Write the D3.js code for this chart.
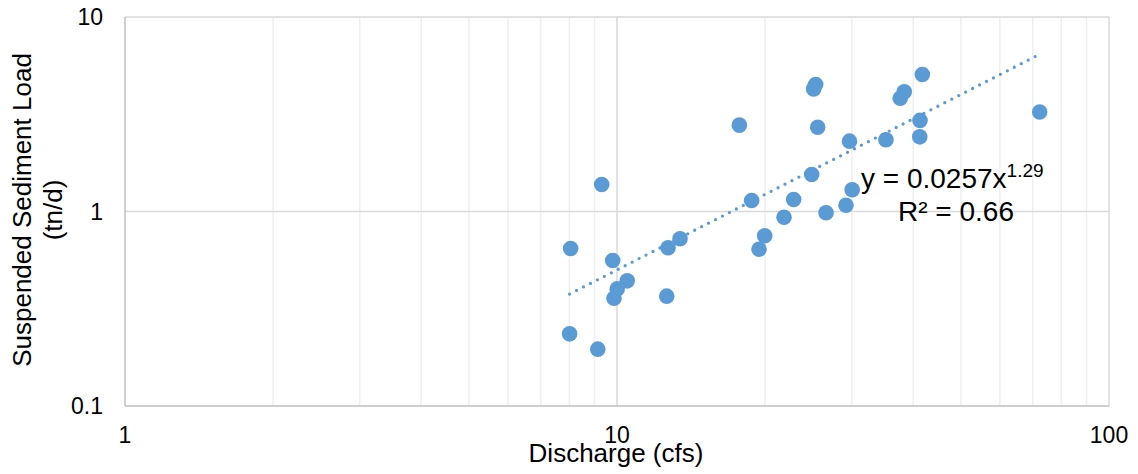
<!DOCTYPE html>
<html>
<head>
<meta charset="utf-8">
<script src="https://cdn.jsdelivr.net/npm/d3@7"></script>
<style>
  html, body { margin: 0; padding: 0; background: #fff; }
  svg { display: block; font-family: "Liberation Sans", Arial, sans-serif; }
</style>
</head>
<body>
<svg id="chart" width="1138" height="474"></svg>
<script>
// Discharge (cfs) and suspended sediment load (tn/d) for each sample
const discharge = [8.05, 8.01, 9.14, 9.31, 9.80, 10.01, 9.86, 10.49, 12.70, 12.62, 13.43,
  17.73, 18.78, 19.44, 19.96, 21.85, 22.86, 24.87, 25.10, 25.34, 25.58, 26.60, 29.20,
  29.69, 30.06, 35.21, 37.64, 38.36, 41.29, 41.24, 41.74, 72.29];
const load = [0.645, 0.235, 0.196, 1.376, 0.560, 0.400, 0.358, 0.440, 0.651, 0.367, 0.724,
  2.78, 1.139, 0.640, 0.750, 0.935, 1.153, 1.55, 4.27, 4.50, 2.71, 0.986, 1.076,
  2.30, 1.293, 2.34, 3.82, 4.13, 2.94, 2.42, 5.06, 3.25];

// Power-law fit y = a * x^b
const fitCoef = 0.0257;
const fitExp = 1.29;
const fitR2 = "0.66";

const xTicks = [1, 10, 100];
const yTicks = [0.1, 1, 10];
const xMinor = [2, 3, 4, 5, 6, 7, 8, 9, 20, 30, 40, 50, 60, 70, 80, 90];

const svg = d3.select("#chart");
const margin = { left: 125, right: 29, top: 17, bottom: 68 };
const W = 1138, H = 474;

const x = d3.scaleLog().domain([1, 100]).range([margin.left, W - margin.right]);
const y = d3.scaleLog().domain([0.1, 10]).range([H - margin.bottom, margin.top]);

const blue = "#5b9bd5";

// minor vertical gridlines
svg.append("g").selectAll("line").data(xMinor).join("line")
  .attr("x1", d => x(d)).attr("x2", d => x(d))
  .attr("y1", y(0.1)).attr("y2", y(10))
  .attr("stroke", "#efefef").attr("stroke-width", 1.5);

// major gridlines
svg.append("g").selectAll("line").data(xTicks.slice(1)).join("line")
  .attr("x1", d => x(d)).attr("x2", d => x(d))
  .attr("y1", y(0.1)).attr("y2", y(10))
  .attr("stroke", "#d9d9d9").attr("stroke-width", 1.5);
svg.append("g").selectAll("line").data(yTicks.slice(1)).join("line")
  .attr("x1", x(1)).attr("x2", x(100))
  .attr("y1", d => y(d)).attr("y2", d => y(d))
  .attr("stroke", "#d9d9d9").attr("stroke-width", 1.5);

// axis lines
svg.append("line").attr("x1", x(1)).attr("x2", x(1)).attr("y1", y(0.1)).attr("y2", y(10))
  .attr("stroke", "#bfbfbf").attr("stroke-width", 1.5);
svg.append("line").attr("x1", x(1)).attr("x2", x(100)).attr("y1", y(0.1)).attr("y2", y(0.1))
  .attr("stroke", "#bfbfbf").attr("stroke-width", 1.5);

// tick labels
const fmt = d => String(d);
svg.append("g").selectAll("text").data(yTicks).join("text")
  .attr("x", x(1) - 22).attr("y", d => y(d)).attr("dy", "0.35em")
  .attr("text-anchor", "end").attr("font-size", 23).attr("fill", "#000")
  .text(fmt);
svg.append("g").selectAll("text").data(xTicks).join("text")
  .attr("x", d => x(d)).attr("y", 443)
  .attr("text-anchor", "middle").attr("font-size", 23).attr("fill", "#000")
  .text(fmt);

// axis titles
svg.append("text").attr("x", 616).attr("y", 462)
  .attr("text-anchor", "middle").attr("font-size", 26).attr("fill", "#000")
  .text("Discharge (cfs)");
const yTitle = svg.append("text")
  .attr("transform", "translate(31,210) rotate(-90)")
  .attr("text-anchor", "middle").attr("font-size", 26).attr("fill", "#000");
yTitle.append("tspan").attr("x", 0).attr("dy", 0).text("Suspended Sediment Load");
yTitle.append("tspan").attr("x", 0).attr("dy", 31).text("(tn/d)");

// trendline across the data range
const xExt = d3.extent(discharge);
const fitPts = d3.range(0, 101).map(i => {
  const xv = Math.exp(Math.log(xExt[0]) + (Math.log(xExt[1]) - Math.log(xExt[0])) * i / 100);
  return [xv, fitCoef * Math.pow(xv, fitExp)];
});
svg.append("path")
  .attr("d", d3.line().x(d => x(d[0])).y(d => y(d[1]))(fitPts))
  .attr("fill", "none").attr("stroke", blue).attr("stroke-width", 3.3)
  .attr("stroke-linecap", "round").attr("stroke-dasharray", "0 7.8");

// sample points
svg.append("g").selectAll("circle").data(discharge.map((d, i) => [d, load[i]])).join("circle")
  .attr("cx", d => x(d[0])).attr("cy", d => y(d[1])).attr("r", 7.8)
  .attr("fill", blue);

// equation label
const eq = svg.append("text").attr("x", 861).attr("y", 188)
  .attr("font-size", 28).attr("fill", "#000");
eq.append("tspan").text("y = " + fitCoef + "x");
eq.append("tspan").attr("font-size", 19).attr("dy", -11).text(fitExp.toFixed(2));
svg.append("text").attr("x", 956).attr("y", 221)
  .attr("text-anchor", "middle").attr("font-size", 28).attr("fill", "#000")
  .text("R² = " + fitR2);
</script>
</body>
</html>
